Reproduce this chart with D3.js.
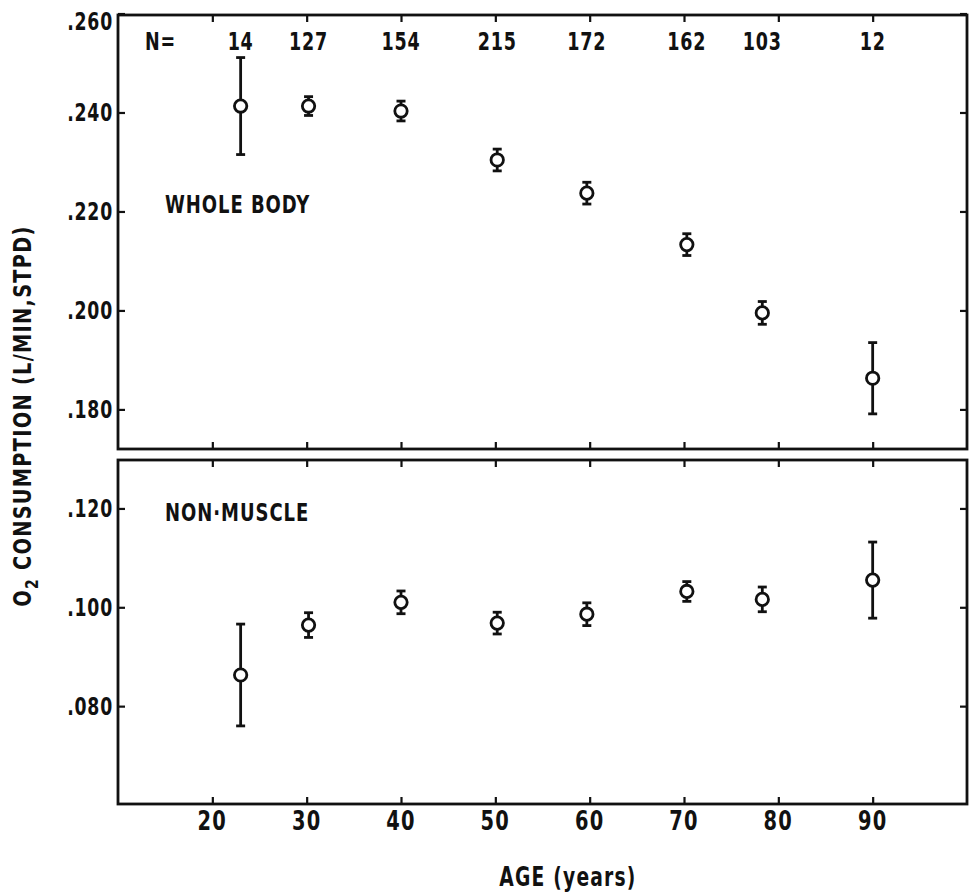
<!DOCTYPE html>
<html>
<head>
<meta charset="utf-8">
<script src="https://cdn.jsdelivr.net/npm/d3@7"></script>
<style>
  html, body { margin: 0; padding: 0; background: #fff; }
  svg text {
    font-family: "DejaVu Sans Condensed", "Liberation Sans Narrow", "Roboto Condensed", sans-serif;
    font-weight: bold;
    fill: #111;
  }
</style>
</head>
<body>
<svg id="chart" width="971" height="892"></svg>
<script>
// Mean age of each decade group (years)
const ages = [23.0, 30.2, 40.0, 50.2, 59.7, 70.3, 78.3, 90.0];
// Number of subjects per group
const sampleN = [14, 127, 154, 215, 172, 162, 103, 12];

// Whole-body O2 consumption (L/min, STPD): mean and error half-width
const wholeBody    = [0.2413, 0.2413, 0.2403, 0.2304, 0.2237, 0.2133, 0.1995, 0.1863];
const wholeBodyErr = [0.0098, 0.0019, 0.0020, 0.0022, 0.0022, 0.0022, 0.0023, 0.0072];

// Non-muscle O2 consumption (L/min, STPD): mean and error half-width
const nonMuscle    = [0.0863, 0.0964, 0.1010, 0.0968, 0.0986, 0.1032, 0.1016, 0.1055];
const nonMuscleErr = [0.0103, 0.0025, 0.0023, 0.0022, 0.0023, 0.0020, 0.0025, 0.0077];

// Axis ticks
const xTicks = [20, 30, 40, 50, 60, 70, 80, 90];
const yTicksTop = [0.180, 0.200, 0.220, 0.240, 0.260];
const yTicksBottom = [0.080, 0.100, 0.120];

const svg = d3.select("#chart");
const ink = "#111";

// Narrow, tall lettering: squeeze text horizontally about the page origin,
// so x positions are divided by the same factor.
function squeeze(sel, sx, xFn) {
  return sel.attr("transform", `scale(${sx},1)`)
    .attr("x", typeof xFn === "function" ? (d, i) => xFn(d, i) / sx : xFn / sx);
}

const left = 118, right = 967;
const x = d3.scaleLinear().domain([10, 100]).range([left, right]);

const panels = [
  { top: 15,  bottom: 449, domain: [0.1720, 0.2597], ticks: yTicksTop,
    values: wholeBody, errs: wholeBodyErr, title: "WHOLE BODY", titleVal: 0.2215 },
  { top: 460, bottom: 804, domain: [0.0602, 0.1298], ticks: yTicksBottom,
    values: nonMuscle, errs: nonMuscleErr, title: "NON\u00B7MUSCLE", titleVal: 0.1192 }
];

const fmt = v => d3.format(".3f")(v).replace(/^0/, "");
const tickLen = 7;

panels.forEach(p => {
  const y = d3.scaleLinear().domain(p.domain).range([p.bottom, p.top]);
  const g = svg.append("g");

  // Frame
  g.append("rect")
    .attr("x", left).attr("y", p.top)
    .attr("width", right - left).attr("height", p.bottom - p.top)
    .attr("fill", "none").attr("stroke", ink).attr("stroke-width", 2.8);

  // Inward ticks on all four sides, built from d3 axes
  const axL = d3.axisRight(y).tickValues(p.ticks).tickSize(tickLen).tickFormat("");
  const axR = d3.axisLeft(y).tickValues(p.ticks).tickSize(tickLen).tickFormat("");
  const axT = d3.axisBottom(x).tickValues(xTicks).tickSize(tickLen).tickFormat("");
  const axB = d3.axisTop(x).tickValues(xTicks).tickSize(tickLen).tickFormat("");
  [[axL, `translate(${left},0)`], [axR, `translate(${right},0)`],
   [axT, `translate(0,${p.top})`], [axB, `translate(0,${p.bottom})`]].forEach(([ax, tr]) => {
    const a = g.append("g").attr("transform", tr).call(ax);
    a.select(".domain").remove();
    a.selectAll("line").attr("stroke", ink).attr("stroke-width", 2.2);
  });

  // Y tick labels
  squeeze(g.selectAll("text.ylab").data(p.ticks).join("text")
    .attr("class", "ylab")
    .attr("y", d => Math.max(y(d), p.top + 6))
    .attr("dy", "0.36em")
    .attr("text-anchor", "end")
    .attr("font-size", 24)
    .attr("letter-spacing", 1)
    .text(fmt), 0.8, left - 5);

  // Panel title
  squeeze(g.append("text")
    .attr("y", y(p.titleVal))
    .attr("dy", "0.36em")
    .attr("font-size", 25).attr("letter-spacing", 1.2)
    .text(p.title), 0.8, 165);

  // Error bars
  const capW = 4.5;
  const bars = g.selectAll("g.bar").data(p.values.map((v, i) => ({ a: ages[i], v, e: p.errs[i] })))
    .join("g").attr("class", "bar");
  bars.append("line")
    .attr("x1", d => x(d.a)).attr("x2", d => x(d.a))
    .attr("y1", d => y(d.v + d.e)).attr("y2", d => y(d.v - d.e))
    .attr("stroke", ink).attr("stroke-width", 2.8);
  [1, -1].forEach(s => {
    bars.append("line")
      .attr("x1", d => x(d.a) - capW).attr("x2", d => x(d.a) + capW)
      .attr("y1", d => y(d.v + s * d.e)).attr("y2", d => y(d.v + s * d.e))
      .attr("stroke", ink).attr("stroke-width", 2.8);
  });
  // Open circle markers
  bars.append("circle")
    .attr("cx", d => x(d.a)).attr("cy", d => y(d.v)).attr("r", 6.2)
    .attr("fill", "#fff").attr("stroke", ink).attr("stroke-width", 2.8);
});

// Sample sizes along the top of the upper panel
const nY = 41;
squeeze(svg.append("text").attr("y", nY).attr("dy", "0.36em")
  .attr("font-size", 25).attr("letter-spacing", 1).text("N="), 0.78, 145);
squeeze(svg.selectAll("text.nlab").data(sampleN).join("text")
  .attr("class", "nlab")
  .attr("y", nY).attr("dy", "0.36em")
  .attr("text-anchor", "middle")
  .attr("font-size", 25).attr("letter-spacing", 1)
  .text(d => d), 0.78, (d, i) => x(ages[i]));

// X tick labels under the lower panel
squeeze(svg.selectAll("text.xlab").data(xTicks).join("text")
  .attr("class", "xlab")
  .attr("y", 830)
  .attr("text-anchor", "middle")
  .attr("font-size", 27).attr("letter-spacing", 1.5)
  .text(d => d), 0.8, d => x(d));

// X axis title
squeeze(svg.append("text").attr("y", 886)
  .attr("text-anchor", "middle")
  .attr("font-size", 26).attr("letter-spacing", 1.5)
  .text("AGE (years)"), 0.8, 568);

// Y axis title, rotated and squeezed along the reading direction
const yt = svg.append("text")
  .attr("transform", "translate(31,416) rotate(-90) scale(0.86,1)")
  .attr("text-anchor", "middle")
  .attr("font-size", 25).attr("letter-spacing", 1.5);
yt.append("tspan").text("O");
yt.append("tspan").attr("font-size", 18).attr("dy", 7).text("2");
yt.append("tspan").attr("dy", -7).text(" CONSUMPTION (L/MIN,STPD)");
</script>
</body>
</html>
